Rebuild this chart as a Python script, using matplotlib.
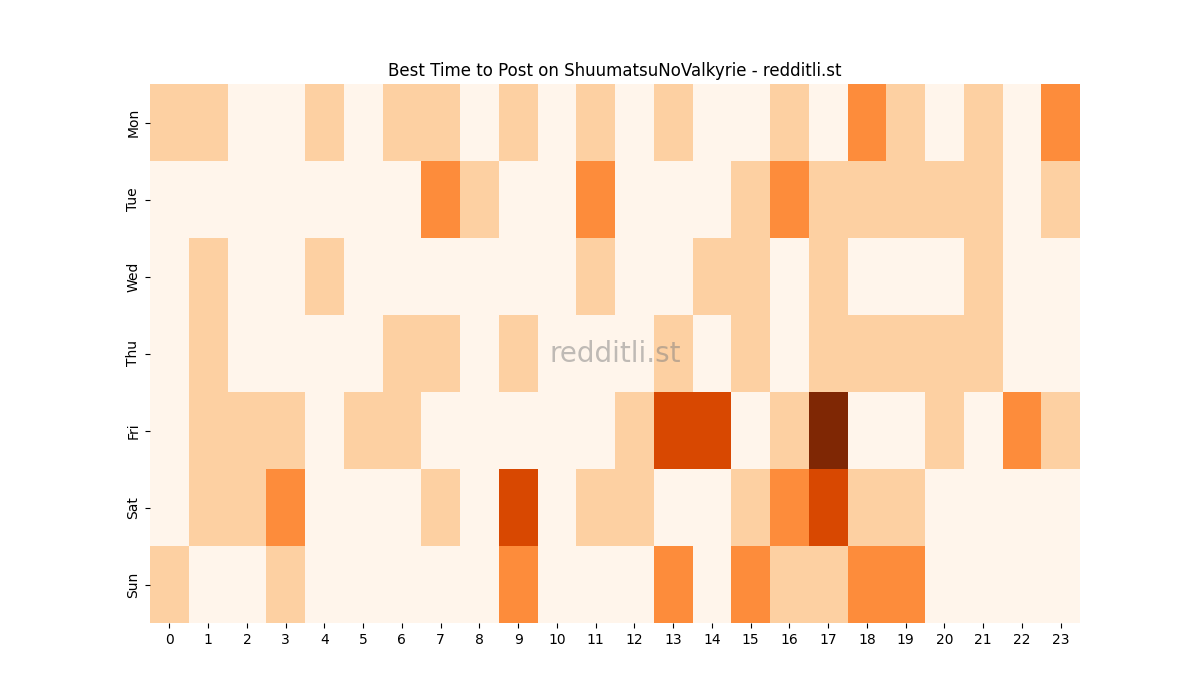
import matplotlib
matplotlib.use("Agg")
import matplotlib.pyplot as plt
import seaborn as sns
import numpy as np

days = ["Mon", "Tue", "Wed", "Thu", "Fri", "Sat", "Sun"]
hours = list(range(24))
mon = [1,1,0,0,1,0,1,1,0,1,0,1,0,1,0,0,1,0,2,1,0,1,0,2]
tue = [0,0,0,0,0,0,0,2,1,0,0,2,0,0,0,1,2,1,1,1,1,1,0,1]
wed = [0,1,0,0,1,0,0,0,0,0,0,1,0,0,1,1,0,1,0,0,0,1,0,0]
thu = [0,1,0,0,0,0,1,1,0,1,0,0,0,1,0,1,0,1,1,1,1,1,0,0]
fri = [0,1,1,1,0,1,1,0,0,0,0,0,1,3,3,0,1,4,0,0,1,0,2,1]
sat = [0,1,1,2,0,0,0,1,0,3,0,1,1,0,0,1,2,3,1,1,0,0,0,0]
sun = [1,0,0,1,0,0,0,0,0,2,0,0,0,2,0,2,1,1,2,2,0,0,0,0]

data = np.array([mon, tue, wed, thu, fri, sat, sun])

fig, ax = plt.subplots(figsize=(12, 7), dpi=100)
sns.heatmap(data, cmap="Oranges", vmin=0, vmax=4, cbar=False, ax=ax,
            xticklabels=hours, yticklabels=days)
ax.set_title("Best Time to Post on ShuumatsuNoValkyrie - redditli.st")
ax.text(0.5, 0.5, "redditli.st", transform=ax.transAxes, ha="center", va="center",
        fontsize=20, color="grey", alpha=0.5)
plt.setp(ax.get_yticklabels(), rotation=90, va="center")
fig.savefig("out.png")
